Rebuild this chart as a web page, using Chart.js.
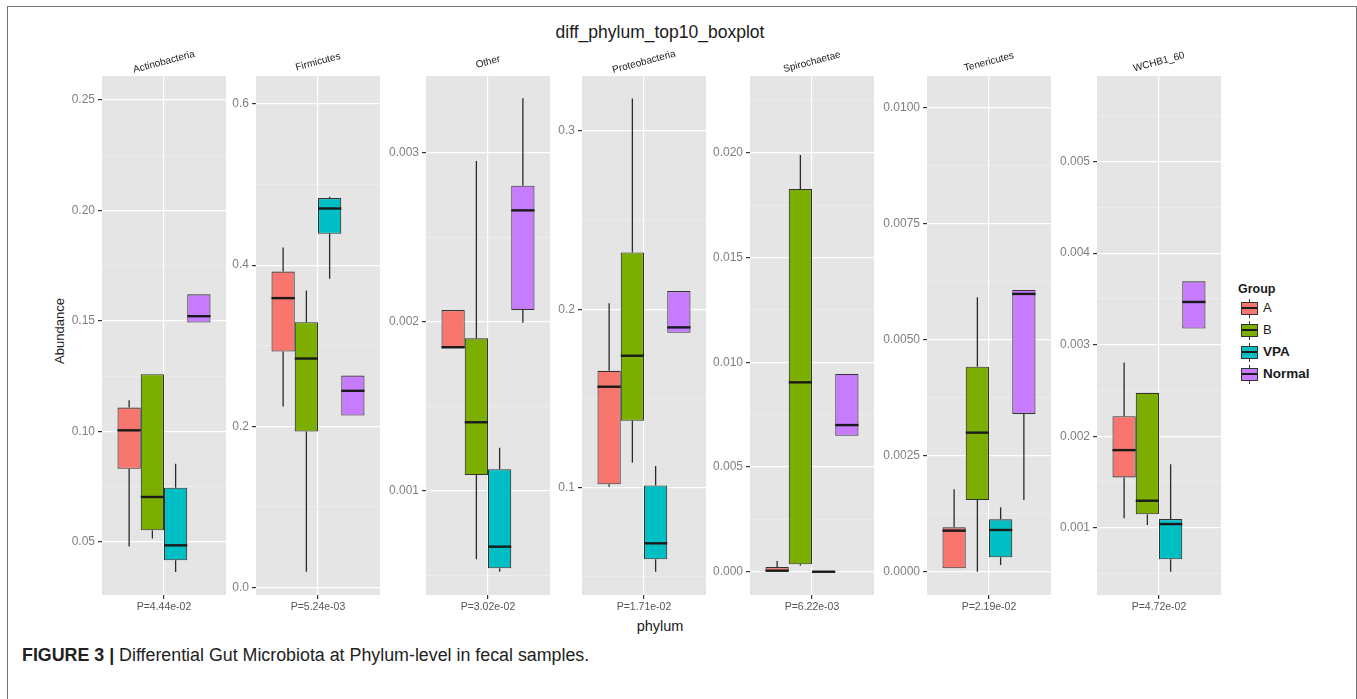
<!DOCTYPE html>
<html>
<head>
<meta charset="utf-8">
<script src="https://cdn.jsdelivr.net/npm/chart.js@4.4.0/dist/chart.umd.min.js"></script>
<style>
  html, body { margin: 0; padding: 0; background: #ffffff; }
  body { width: 1357px; height: 699px; position: relative; overflow: hidden;
         font-family: "Liberation Sans", Arial, Helvetica, sans-serif; }
  .frame { position: absolute; left: 7px; top: 6px; width: 1348px; height: 720px;
           border-left: 1.5px solid #777; border-top: 1.5px solid #777; border-right: 1.5px solid #777; }
  canvas { position: absolute; }
  .txt { position: absolute; white-space: nowrap; color: #1a1a1a; }
  #title { left: 660px; top: 22px; transform: translateX(-50%); font-size: 17.5px; line-height: 20px; }
  #ylab { left: 59px; top: 331px; transform: translate(-50%, -50%) rotate(-90deg); font-size: 13px; }
  #xlab { left: 660px; top: 626px; transform: translate(-50%, -50%); font-size: 14.5px; }
  #legend { position: absolute; left: 1238px; top: 280px; }
  #legend .head { font-weight: bold; font-size: 12.5px; line-height: 18px; color: #1a1a1a; }
  #legend .row { position: relative; height: 22px; }
  #legend .key { position: absolute; left: 3px; top: 4px; width: 15px; height: 11px;
                 border: 1px solid #333; }
  #legend .key .med { position: absolute; left: 0; right: 0; top: 4px; height: 2px; background: #1a1a1a; }
  #legend .key .wt, #legend .key .wb { position: absolute; left: 7px; width: 1px; height: 3px; background: #333; }
  #legend .key .wt { top: -4px; }
  #legend .key .wb { bottom: -4px; }
  #legend .lab { position: absolute; left: 25px; top: 2px; font-size: 13px; line-height: 16px; color: #1a1a1a; }
  #caption { left: 22px; top: 645px; font-size: 18px; line-height: 21px; color: #222;
             transform-origin: 0 50%; transform: scaleX(0.99); }
</style>
</head>
<body>
<div class="frame"></div>
<div class="txt" id="title">diff_phylum_top10_boxplot</div>
<div class="txt" id="ylab">Abundance</div>
<div class="txt" id="xlab">phylum</div>
<div id="legend"></div>
<div class="txt" id="caption"><b>FIGURE 3 |</b> Differential Gut Microbiota at Phylum-level in fecal samples.</div>

<script>
// ---- data -------------------------------------------------------------
const phyla = ['Actinobacteria', 'Firmicutes', 'Other', 'Proteobacteria',
               'Spirochaetae', 'Tenericutes', 'WCHB1_60'];
const pValues = ['P=4.44e-02', 'P=5.24e-03', 'P=3.02e-02', 'P=1.71e-02',
                 'P=6.22e-03', 'P=2.19e-02', 'P=4.72e-02'];
const groups = ['A', 'B', 'VPA', 'Normal'];

// box statistics per phylum: [lower whisker, Q1, median, Q3, upper whisker]
const groupA = [
  [0.0478, 0.0830, 0.1004, 0.1107, 0.1140],
  [0.2243, 0.2927, 0.3590, 0.3920, 0.4219],
  [0.001843, 0.001843, 0.001849, 0.002069, 0.002069],
  [0.1003, 0.1017, 0.1565, 0.1654, 0.2033],
  [0.0, 0.0, 0.00005, 0.000224, 0.00051],
  [0.000073, 0.000073, 0.000884, 0.000957, 0.001776],
  [0.001103, 0.00155, 0.001848, 0.002219, 0.002806]
];
const groupB = [
  [0.0514, 0.0551, 0.0702, 0.1258, 0.1258],
  [0.0194, 0.1933, 0.2840, 0.3292, 0.3685],
  [0.000594, 0.001093, 0.001405, 0.001902, 0.002951],
  [0.1138, 0.1374, 0.1739, 0.2319, 0.3183],
  [0.00029, 0.000353, 0.00904, 0.01827, 0.01989],
  [0.0, 0.001545, 0.002996, 0.004418, 0.005914],
  [0.00103, 0.001146, 0.001295, 0.002474, 0.002474]
];
const groupVPA = [
  [0.0362, 0.0415, 0.0483, 0.0744, 0.0853],
  [0.3830, 0.4389, 0.4703, 0.4832, 0.4850],
  [0.000521, 0.000541, 0.000669, 0.001127, 0.001254],
  [0.0526, 0.0596, 0.0686, 0.1011, 0.1120],
  [0.0, 0.0, 0.0, 0.0, 0.0],
  [0.000144, 0.00031, 0.000899, 0.001129, 0.001388],
  [0.00052, 0.000655, 0.00104, 0.001095, 0.001695]
];
const groupNormal = [
  [0.1492, 0.1492, 0.1521, 0.1620, 0.1620],
  [0.2132, 0.2132, 0.2439, 0.2629, 0.2629],
  [0.001994, 0.002069, 0.002659, 0.002805, 0.003322],
  [0.1868, 0.1868, 0.1898, 0.2102, 0.2102],
  [0.00649, 0.00649, 0.0070, 0.00944, 0.00944],
  [0.001545, 0.003399, 0.005985, 0.006071, 0.006071],
  [0.003177, 0.003177, 0.003467, 0.003693, 0.003693]
];

// y-axis limits and tick labels per panel
const yLimits = [
  [0.0258, 0.2609], [-0.0096, 0.6348], [0.000383, 0.003454], [0.0396, 0.3309],
  [-0.00111, 0.02366], [-0.000502, 0.01068], [0.000265, 0.005936]
];
const yTickLabels = [
  ['0.05', '0.10', '0.15', '0.20', '0.25'],
  ['0.0', '0.2', '0.4', '0.6'],
  ['0.001', '0.002', '0.003'],
  ['0.1', '0.2', '0.3'],
  ['0.000', '0.005', '0.010', '0.015', '0.020'],
  ['0.0000', '0.0025', '0.0050', '0.0075', '0.0100'],
  ['0.001', '0.002', '0.003', '0.004', '0.005']
];

// ---- styling / layout -------------------------------------------------
const groupColors = ['#F8766D', '#7CAE00', '#00BFC4', '#C77CFF'];
const groupStats = [groupA, groupB, groupVPA, groupNormal];
const legendBold = [false, false, true, true];
const panelLeft = [102, 256, 426, 582, 750, 927, 1097];
const panelW = 124;
const axisW = 52;
const canvasTop = 40, canvasH = 580;
const areaTop = 76, areaBottom = 595;
const FONT = '"Liberation Sans", Arial, Helvetica, sans-serif';

// grey panel background
const panelBg = {
  id: 'panelBg',
  beforeDraw(chart) {
    const { ctx, chartArea: a } = chart;
    ctx.save();
    ctx.fillStyle = '#E5E5E5';
    ctx.fillRect(a.left, a.top, a.right - a.left, a.bottom - a.top);
    ctx.restore();
  }
};

// whiskers and medians on top of the floating bars
const boxParts = {
  id: 'boxParts',
  afterDatasetsDraw(chart) {
    const { ctx } = chart;
    const ys = chart.scales.y;
    chart.data.datasets.forEach((ds, i) => {
      const el = chart.getDatasetMeta(i).data[0];
      if (!el) return;
      const s = ds.stats;
      const x = el.x, half = el.width / 2;
      const px = v => ys.getPixelForValue(v);
      ctx.save();
      ctx.strokeStyle = '#2b2b2b';
      ctx.lineWidth = 1.3;
      ctx.beginPath();
      if (s[4] > s[3]) { ctx.moveTo(x, px(s[4])); ctx.lineTo(x, px(s[3])); }
      if (s[0] < s[1]) { ctx.moveTo(x, px(s[1])); ctx.lineTo(x, px(s[0])); }
      ctx.stroke();
      ctx.strokeStyle = '#1a1a1a';
      ctx.lineWidth = 2.4;
      ctx.beginPath();
      ctx.moveTo(x - half, px(s[2]));
      ctx.lineTo(x + half, px(s[2]));
      ctx.stroke();
      ctx.restore();
    });
  }
};

// tilted facet strip label above each panel
const stripLabel = {
  id: 'stripLabel',
  afterDraw(chart) {
    const { ctx, chartArea: a } = chart;
    ctx.save();
    ctx.translate((a.left + a.right) / 2, a.top - 14);
    ctx.rotate(-15 * Math.PI / 180);
    ctx.font = '10px ' + FONT;
    ctx.fillStyle = '#1a1a1a';
    ctx.textAlign = 'center';
    ctx.textBaseline = 'middle';
    ctx.fillText(chart.options.plugins.stripLabel.text, 0, 0);
    ctx.restore();
  }
};

function buildTicks(labels, lim) {
  const major = labels.map(Number);
  const step = major.length > 1 ? major[1] - major[0] : 1;
  const ticks = [];
  const minorVals = [major[0] - step / 2];
  for (let i = 0; i < major.length; i++) {
    ticks.push({ value: major[i], label: labels[i], minor: false });
    minorVals.push(major[i] + step / 2);
  }
  minorVals.forEach(v => {
    if (v > lim[0] && v < lim[1]) ticks.push({ value: v, label: '', minor: true });
  });
  ticks.sort((p, q) => p.value - q.value);
  return ticks;
}

phyla.forEach((name, p) => {
  const canvas = document.createElement('canvas');
  const w = axisW + panelW + 2;
  canvas.width = w; canvas.height = canvasH;
  canvas.style.left = (panelLeft[p] - axisW) + 'px';
  canvas.style.top = canvasTop + 'px';
  canvas.style.width = w + 'px'; canvas.style.height = canvasH + 'px';
  document.body.appendChild(canvas);

  const tickList = buildTicks(yTickLabels[p], yLimits[p]);

  new Chart(canvas, {
    type: 'bar',
    data: {
      labels: [pValues[p]],
      datasets: groups.map((g, gi) => ({
        label: g,
        data: [[groupStats[gi][p][1], groupStats[gi][p][3]]],
        stats: groupStats[gi][p],
        backgroundColor: groupColors[gi],
        borderColor: '#333333',
        borderWidth: 1.1,
        borderSkipped: false,
        categoryPercentage: 0.75,
        barPercentage: 1.0
      }))
    },
    options: {
      responsive: false,
      animation: false,
      devicePixelRatio: 1,
      layout: { padding: { top: areaTop - canvasTop, right: 2, bottom: 0, left: 0 } },
      plugins: {
        legend: { display: false },
        tooltip: { enabled: false },
        stripLabel: { text: name }
      },
      scales: {
        x: {
          offset: true,
          afterFit: s => { s.height = canvasTop + canvasH - areaBottom; },
          border: { display: false },
          grid: { offset: false, color: '#FFFFFF', lineWidth: 1.2,
                  tickColor: '#333333', tickLength: 4, drawOnChartArea: true },
          ticks: { color: '#555555', font: { family: FONT, size: 10.5 }, padding: 2,
                   maxRotation: 0, autoSkip: false }
        },
        y: {
          min: yLimits[p][0], max: yLimits[p][1],
          afterFit: s => { s.width = axisW; },
          afterBuildTicks: s => { s.ticks = tickList.map(t => ({ value: t.value, minor: t.minor, text: t.label })); },
          border: { display: false },
          grid: {
            color: c => (c.tick && c.tick.minor) ? '#F2F2F2' : '#FFFFFF',
            lineWidth: c => (c.tick && c.tick.minor) ? 0.6 : 1.2,
            tickColor: c => (c.tick && c.tick.minor) ? 'rgba(0,0,0,0)' : '#333333',
            tickLength: 4
          },
          ticks: {
            autoSkip: false,
            color: '#7F7F7F',
            padding: 3,
            font: { family: FONT, size: 12 },
            callback: (v, i) => tickList[i] ? tickList[i].label : ''
          }
        }
      }
    },
    plugins: [panelBg, boxParts, stripLabel]
  });
});

// legend for the groups
const legend = document.getElementById('legend');
const head = document.createElement('div');
head.className = 'head';
head.textContent = 'Group';
legend.appendChild(head);
groups.forEach((g, gi) => {
  const row = document.createElement('div');
  row.className = 'row';
  const key = document.createElement('div');
  key.className = 'key';
  key.style.background = groupColors[gi];
  key.innerHTML = '<div class="wt"></div><div class="med"></div><div class="wb"></div>';
  const lab = document.createElement('div');
  lab.className = 'lab';
  lab.textContent = g;
  if (legendBold[gi]) { lab.style.fontWeight = 'bold'; lab.style.fontSize = '13.5px'; }
  row.appendChild(key);
  row.appendChild(lab);
  legend.appendChild(row);
});
</script>
</body>
</html>
